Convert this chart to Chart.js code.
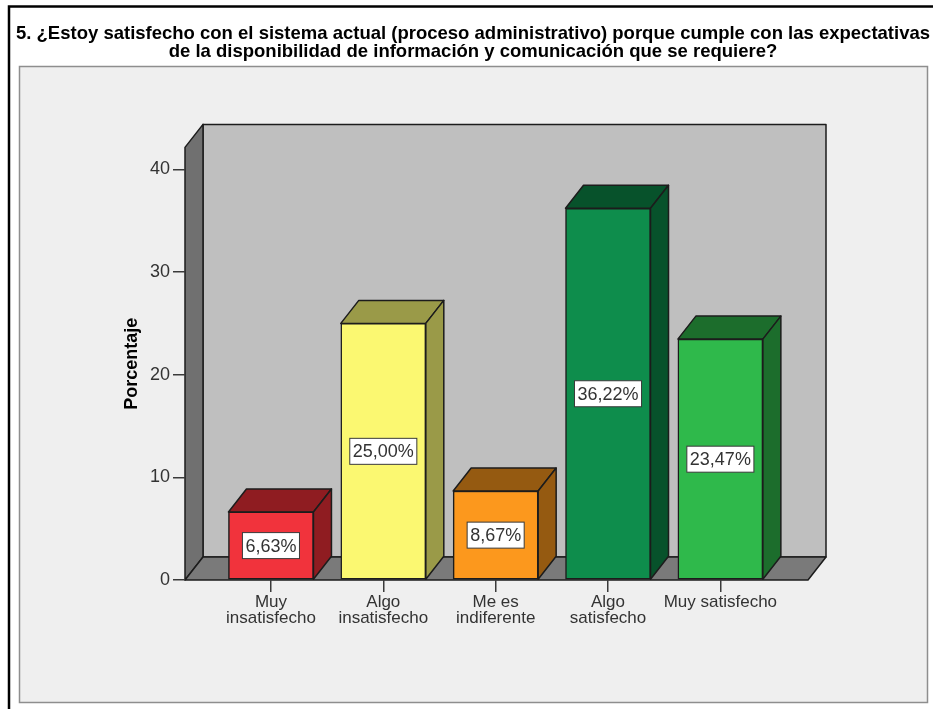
<!DOCTYPE html>
<html>
<head>
<meta charset="utf-8">
<title>Satisfacción con el sistema actual</title>
<script src="https://cdn.jsdelivr.net/npm/chart.js@4"></script>
<style>
    html, body { margin: 0; padding: 0; background: #fff; }
    #wrap { position: relative; width: 933px; height: 709px; }
</style>
</head>
<body>
<div id="wrap"><canvas id="satisfaccionChart"></canvas></div>
<script>
// ===========================
// Data
// ===========================
const titleLines = [
    '5. ¿Estoy satisfecho con el sistema actual (proceso administrativo) porque cumple con las expectativas',
    'de la disponibilidad de información y comunicación que se requiere?'
];
const categories = [
    ['Muy', 'insatisfecho'],
    ['Algo', 'insatisfecho'],
    ['Me es', 'indiferente'],
    ['Algo', 'satisfecho'],
    ['Muy satisfecho']
];
const values = [6.63, 25.00, 8.67, 36.22, 23.47];
const yTicks = [0, 10, 20, 30, 40];

const frontColors = ['#F1333C', '#FBF871', '#FC981D', '#0E8D4C', '#2FB94B'];
const sideColors = ['#8F1C21', '#9A9A48', '#955A11', '#07522B', '#1C6D2C'];

// depth of the fake 3D box
const DEPTH_X = 18;
const DEPTH_Y = 23;
const LINE = '#1c1c1c';

function poly(ctx, pts, fill) {
    ctx.beginPath();
    pts.forEach((p, i) => i ? ctx.lineTo(p[0], p[1]) : ctx.moveTo(p[0], p[1]));
    ctx.closePath();
    ctx.fillStyle = fill;
    ctx.fill();
    ctx.stroke();
}

// ===========================
// Panel, walls and bar depth
// ===========================
const box3d = {
    id: 'box3d',
    afterLayout(chart) {
        // the title runs nearly the full width, a little right of the canvas centre
        chart.titleBlock.left = 13;
        chart.titleBlock.right = 933;
    },
    beforeDraw(chart) {
        const ctx = chart.ctx;
        const { left, right, top, bottom } = chart.chartArea;
        ctx.save();

        // outer frame, open to the right and bottom
        ctx.strokeStyle = '#000';
        ctx.lineWidth = 2.5;
        ctx.beginPath();
        ctx.moveTo(9, 709);
        ctx.lineTo(9, 6.5);
        ctx.lineTo(933, 6.5);
        ctx.stroke();

        // grey panel
        ctx.fillStyle = '#EFEFEF';
        ctx.strokeStyle = '#8E8E8E';
        ctx.lineWidth = 1.5;
        ctx.fillRect(19.5, 66.5, 908, 636);
        ctx.strokeRect(19.5, 66.5, 908, 636);

        // back wall, side wall, floor
        ctx.strokeStyle = LINE;
        ctx.lineWidth = 1.5;
        ctx.lineJoin = 'round';
        poly(ctx, [
            [left + DEPTH_X, top - DEPTH_Y], [right + DEPTH_X, top - DEPTH_Y],
            [right + DEPTH_X, bottom - DEPTH_Y], [left + DEPTH_X, bottom - DEPTH_Y]
        ], '#BFBFBF');
        poly(ctx, [
            [left, top], [left + DEPTH_X, top - DEPTH_Y],
            [left + DEPTH_X, bottom - DEPTH_Y], [left, bottom]
        ], '#707070');
        poly(ctx, [
            [left, bottom], [left + DEPTH_X, bottom - DEPTH_Y],
            [right + DEPTH_X, bottom - DEPTH_Y], [right, bottom]
        ], '#7A7A7A');
        ctx.restore();
    },
    beforeDatasetsDraw(chart) {
        const ctx = chart.ctx;
        ctx.save();
        ctx.strokeStyle = LINE;
        ctx.lineWidth = 1.5;
        ctx.lineJoin = 'round';
        chart.getDatasetMeta(0).data.forEach((bar, i) => {
            const l = bar.x - bar.width / 2;
            const r = bar.x + bar.width / 2;
            poly(ctx, [[l, bar.y], [l + DEPTH_X, bar.y - DEPTH_Y], [r + DEPTH_X, bar.y - DEPTH_Y], [r, bar.y]], sideColors[i]);
            poly(ctx, [[r, bar.y], [r + DEPTH_X, bar.y - DEPTH_Y], [r + DEPTH_X, bar.base - DEPTH_Y], [r, bar.base]], sideColors[i]);
        });
        ctx.restore();
    },
    afterDatasetsDraw(chart) {
        const ctx = chart.ctx;
        ctx.save();
        ctx.font = '18px "Liberation Sans"';
        ctx.textAlign = 'center';
        ctx.textBaseline = 'middle';
        chart.getDatasetMeta(0).data.forEach((bar, i) => {
            const label = values[i].toFixed(2).replace('.', ',') + '%';
            const w = ctx.measureText(label).width + 6;
            const cy = (bar.y + bar.base) / 2;
            ctx.fillStyle = '#fff';
            ctx.strokeStyle = '#3a3a3a';
            ctx.lineWidth = 1;
            ctx.fillRect(bar.x - w / 2, cy - 13, w, 26);
            ctx.strokeRect(bar.x - w / 2, cy - 13, w, 26);
            ctx.fillStyle = '#333';
            ctx.fillText(label, bar.x, cy + 1);
        });
        ctx.restore();
    }
};

// ===========================
// Chart
// ===========================
new Chart(document.getElementById('satisfaccionChart'), {
    type: 'bar',
    plugins: [box3d],
    data: {
        datasets: [{
            data: values.map((v, i) => ({ x: i, y: v })),
            backgroundColor: frontColors,
            borderColor: LINE,
            borderWidth: 1.5,
            borderSkipped: false,
            barThickness: 85
        }]
    },
    options: {
        responsive: true,
        maintainAspectRatio: false,
        animation: false,
        layout: { padding: { left: 120, right: 125, top: 0, bottom: 0 } },
        plugins: {
            legend: { display: false },
            tooltip: { enabled: false },
            title: {
                display: true,
                text: titleLines,
                color: '#000',
                font: { family: '"Liberation Sans"', size: 18.5, weight: 'bold', lineHeight: 0.97 },
                padding: { top: 24.5, bottom: 87 }
            }
        },
        scales: {
            x: {
                type: 'linear',
                offset: false,
                min: -0.765,
                max: 4.78,
                afterBuildTicks: (scale) => { scale.ticks = categories.map((_, i) => ({ value: i })); },
                afterFit: (scale) => { scale.height = 129; },
                grid: { display: true, offset: false, drawOnChartArea: false, drawTicks: true, tickLength: 12, color: '#3a3a3a', lineWidth: 1.5 },
                border: { display: false },
                ticks: {
                    autoSkip: false,
                    maxRotation: 0,
                    padding: 2,
                    color: '#333',
                    font: { family: '"Liberation Sans"', size: 17, lineHeight: 0.95 },
                    callback: (v) => categories[v]
                }
            },
            y: {
                min: 0,
                max: 42.15,
                afterBuildTicks: (scale) => { scale.ticks = yTicks.map((v) => ({ value: v })); },
                afterFit: (scale) => { scale.width = 65; },
                grid: { display: true, drawOnChartArea: false, drawTicks: true, tickLength: 12, color: '#3a3a3a', lineWidth: 1.5 },
                border: { display: false },
                ticks: {
                    padding: 3,
                    color: '#333',
                    font: { family: '"Liberation Sans"', size: 18 }
                },
                title: {
                    display: true,
                    text: 'Porcentaje',
                    color: '#000',
                    font: { family: '"Liberation Sans"', size: 18, weight: 'bold' },
                    padding: { top: 1, bottom: 0 }
                }
            }
        }
    }
});
</script>
</body>
</html>
